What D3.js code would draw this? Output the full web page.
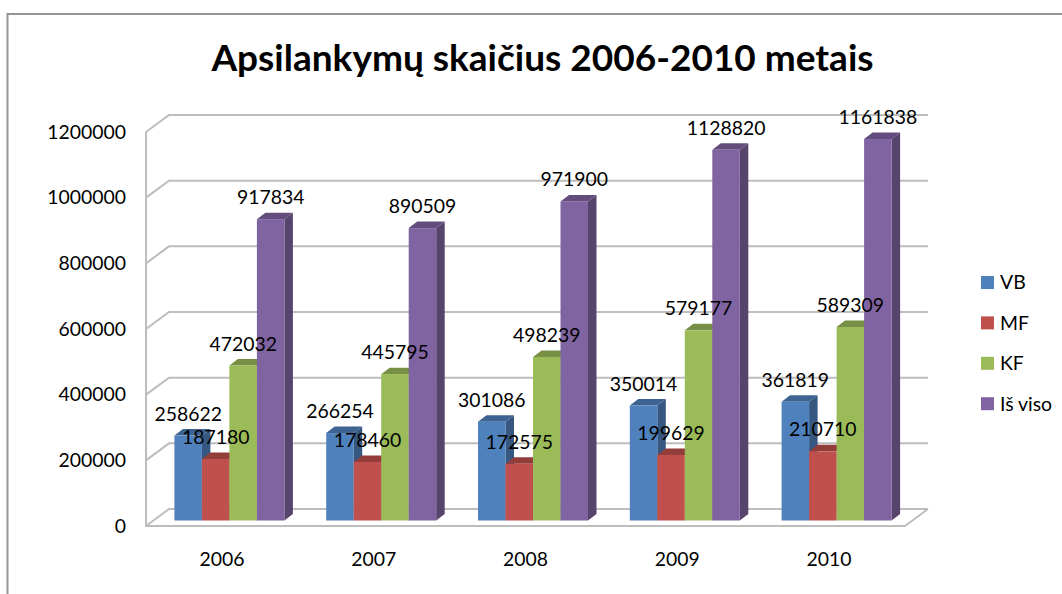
<!DOCTYPE html>
<html>
<head>
    <meta charset="utf-8">
    <title>Apsilankymų skaičius 2006-2010 metais</title>
    <script src="https://d3js.org/d3.v7.min.js"></script>
    <style>
        html, body { margin: 0; padding: 0; background: white; overflow: hidden; }
        text { font-family: Lato, sans-serif; fill: #000; }
        .tick line, .domain { display: none; }
    </style>
</head>
<body>
    <div id="chart"></div>

    <script>
        // Values
        const years = ["2006", "2007", "2008", "2009", "2010"];
        const seriesNames = ["VB", "MF", "KF", "Iš viso"];
        const vb = [258622, 266254, 301086, 350014, 361819];
        const mf = [187180, 178460, 172575, 199629, 210710];
        const kf = [472032, 445795, 498239, 579177, 589309];
        const total = [917834, 890509, 971900, 1128820, 1161838];
        const yTicks = [0, 200000, 400000, 600000, 800000, 1000000, 1200000];
        const colors = ["#4f81bd", "#c0504d", "#9bbb59", "#8064a2"];

        const width = 1062, height = 594;
        const plot = { left: 146, right: 905, top: 132, bottom: 526 };
        const wall = { dx: 23, dy: -17 };    // depth of the chart box
        const barShift = { dx: 7.5, dy: -5.5 };  // bars stand in the middle of the floor
        const barDepth = { dx: 8.5, dy: -6.5 };
        const fontSize = 19.4;

        const svg = d3.select("#chart").append("svg")
            .attr("width", width)
            .attr("height", height);

        const xScale = d3.scaleBand().domain(years).range([plot.left, plot.right]);
        const yScale = d3.scaleLinear().domain([0, 1200000]).range([plot.bottom, plot.top]);
        const xSeries = d3.scaleBand().domain(seriesNames).range([-55, 55]);

        // Outer frame, only the top and left edges are in the crop
        svg.append("path")
            .attr("d", `M7.5,${height}V14H${width}`)
            .attr("fill", "none")
            .attr("stroke", "#969696")
            .attr("stroke-width", 2);

        // Title
        svg.append("text")
            .attr("x", 542.5)
            .attr("y", 71)
            .attr("text-anchor", "middle")
            .style("font-size", "37px")
            .style("font-weight", 700)
            .text("Apsilankymų skaičius 2006-2010 metais");

        // Gridlines on the back wall, with the slanted part on the side wall
        const grid = svg.append("g")
            .attr("fill", "none")
            .attr("stroke", "#bdbdbd")
            .attr("stroke-width", 2);

        grid.selectAll("path")
            .data(yTicks)
            .enter()
            .append("path")
            .attr("d", d => `M${plot.left},${yScale(d)}l${wall.dx},${wall.dy}H${plot.right + wall.dx}`);

        grid.append("path")
            .attr("d", `M${plot.left},${plot.top}V${plot.bottom}H${plot.right}l${wall.dx},${wall.dy}`);

        // Axes, labels only
        svg.append("g")
            .attr("transform", `translate(${plot.left - 1},0)`)
            .call(d3.axisLeft(yScale).tickValues(yTicks).tickSize(0).tickPadding(19).tickFormat(d3.format("d")))
            .selectAll("text")
            .style("font-size", fontSize + "px")
            .style("font-family", "Lato, sans-serif");

        svg.append("g")
            .attr("transform", `translate(0,${plot.bottom})`)
            .call(d3.axisBottom(xScale).tickSize(0).tickPadding(26))
            .selectAll("text")
            .style("font-size", fontSize + "px")
            .style("font-family", "Lato, sans-serif");

        svg.selectAll(".domain").remove();

        // Bars
        const rows = years.flatMap((year, i) => [vb, mf, kf, total].map((values, s) => ({
            year,
            name: seriesNames[s],
            value: values[i],
            color: colors[s]
        })));

        const barX = d => xScale(d.year) + xScale.bandwidth() / 2 + xSeries(d.name) + barShift.dx;
        const barTop = d => yScale(d.value) + barShift.dy;
        const barBase = yScale(0) + barShift.dy;
        const barW = xSeries.bandwidth();

        const bars = svg.selectAll(".bar")
            .data(rows)
            .enter()
            .append("g")
            .attr("class", "bar");

        // side face
        bars.append("path")
            .attr("fill", d => d3.color(d.color).darker(1.1))
            .attr("d", d => {
                const x = barX(d) + barW;
                return `M${x},${barTop(d)}l${barDepth.dx},${barDepth.dy}V${barBase + barDepth.dy}L${x},${barBase}Z`;
            });

        // top face
        bars.append("path")
            .attr("fill", d => d3.color(d.color).darker(0.75))
            .attr("d", d => `M${barX(d)},${barTop(d)}l${barDepth.dx},${barDepth.dy}h${barW}l${-barDepth.dx},${-barDepth.dy}Z`);

        // front face
        bars.append("rect")
            .attr("x", barX)
            .attr("y", barTop)
            .attr("width", barW)
            .attr("height", d => barBase - barTop(d))
            .attr("fill", d => d.color);

        // Data labels go on top of every bar
        svg.selectAll(".value")
            .data(rows)
            .enter()
            .append("text")
            .attr("class", "value")
            .attr("x", d => barX(d) + barW / 2)
            .attr("y", d => barTop(d) - 22)
            .attr("dy", "0.36em")
            .attr("text-anchor", "middle")
            .style("font-size", fontSize + "px")
            .text(d => d.value);

        // Legend
        const legend = svg.selectAll(".legend-item")
            .data(seriesNames)
            .enter()
            .append("g")
            .attr("class", "legend-item")
            .attr("transform", (d, i) => `translate(981,${282.5 + i * 40.4})`);

        legend.append("rect")
            .attr("y", -6.5)
            .attr("width", 13)
            .attr("height", 13)
            .attr("fill", (d, i) => colors[i]);

        legend.append("text")
            .attr("x", 19)
            .attr("dy", "0.36em")
            .style("font-size", fontSize + "px")
            .text(d => d);
    </script>
</body>
</html>
